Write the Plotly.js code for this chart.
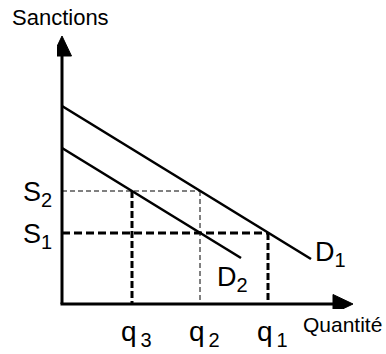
<!DOCTYPE html>
<html>
<head>
<meta charset="utf-8">
<script src="https://cdn.plot.ly/plotly-3.0.1.min.js"></script>
<style>
  html, body { margin: 0; padding: 0; background: #fff; }
  #plot { width: 386px; height: 354px; }
</style>
</head>
<body>
<div id="plot"></div>
<script>
// demand curves, from the vertical axis to their end
const d1X = [0, 24.9];
const d1Y = [19.8, 4.5];
const d2X = [0, 17.9];
const d2Y = [15.6, 4.6];

// quantities (q3, q2, q1) and sanction levels (S1, S2)
const qVals = [7.0, 13.8, 20.6];
const qNames = ['q', 'q', 'q'];
const qSubs = ['3', '2', '1'];
const sVals = [7.1, 11.3];
const sSubs = ['1', '2'];
const curveSubs = ['1', '2'];

const xRange = [-0.5, 29.3];
const yRange = [-0.5, 27.0];
const FONT = 'Liberation Sans, Arial, sans-serif';
const INK = '#000';

const [q3, q2, q1] = qVals;
const [s1, s2] = sVals;

// main letter + bigger-than-default subscript
function lab(main, sub, subSize) {
    return main + '<sub><span style="font-size:' + subSize + 'px">' + sub + '</span></sub>';
}

function seg(x, y, width, dash) {
    return {
        x: x, y: y, mode: 'lines', type: 'scatter', hoverinfo: 'skip',
        line: {color: INK, width: width, dash: dash}
    };
}

const traces = [
    // thin guides for S2 / q2
    seg([0, q2], [s2, s2], 1, '5px,3px'),
    seg([q2, q2], [s2, 0], 1, '5px,3px'),
    // thick guides
    seg([0, q1], [s1, s1], 3, '8px,4px'),
    seg([q1, q1], [s1, 0], 3, '7px,3px'),
    seg([q3, q3], [s2, 0], 3, '7px,3px'),
    // demand curves
    seg(d1X, d1Y, 2.6, 'solid'),
    seg(d2X, d2Y, 2.6, 'solid')
];

// axes with arrow heads, derived from the axis ranges
const xTip = xRange[1] - 0.2, yTip = yRange[1] - 0.2;
const headLen = 2.0, headHalf = 0.95;
const shapes = [
    {type: 'line', x0: 0, y0: 0, x1: 0, y1: yTip - headLen + 0.3,
     line: {color: INK, width: 3}},
    {type: 'line', x0: -0.15, y0: 0, x1: xTip - headLen + 0.3, y1: 0,
     line: {color: INK, width: 3}},
    {type: 'path', path: 'M ' + (-headHalf) + ' ' + (yTip - headLen) + ' L 0 ' + yTip +
        ' L ' + headHalf + ' ' + (yTip - headLen) + ' Z',
     fillcolor: INK, line: {color: INK, width: 1}},
    {type: 'path', path: 'M ' + (xTip - headLen) + ' ' + (-headHalf) + ' L ' + xTip + ' 0 L ' +
        (xTip - headLen) + ' ' + headHalf + ' Z',
     fillcolor: INK, line: {color: INK, width: 1}}
];

const annotations = [
    {x: 0, y: yRange[1], yshift: 17, xshift: -2, text: 'Sanctions', showarrow: false,
     font: {family: FONT, size: 22, color: INK}},
    {x: 28.05, y: 0, yshift: -20, text: 'Quantité', showarrow: false,
     font: {family: FONT, size: 21, color: INK}},
    {x: 25.3, y: 5.0, xshift: -2, text: lab('D', curveSubs[0], 20), showarrow: false, xanchor: 'left',
     font: {family: FONT, size: 27, color: INK}},
    {x: 15.5, y: 2.5, xshift: -2, text: lab('D', curveSubs[1], 20), showarrow: false, xanchor: 'left',
     font: {family: FONT, size: 27, color: INK}}
];
qVals.forEach(function (q, i) {
    annotations.push({x: q, y: 0, yshift: -29, xshift: 4,
        text: qNames[i] + '<sub><span style="font-size:20px">\u2009' + qSubs[i] + '</span></sub>',
        showarrow: false,
        font: {family: FONT, size: 28, color: INK}});
});
sVals.forEach(function (s, i) {
    annotations.push({x: 0, y: s, text: lab('S', sSubs[i], 20), showarrow: false,
        xanchor: 'right', xshift: -8, yshift: -3,
        font: {family: FONT, size: 27, color: INK}});
});

const layout = {
    width: 386, height: 354,
    margin: {l: 57, r: 31, t: 34, b: 45},
    paper_bgcolor: '#fff', plot_bgcolor: '#fff',
    showlegend: false,
    xaxis: {range: xRange, showgrid: false, zeroline: false, showticklabels: false, showline: false},
    yaxis: {range: yRange, showgrid: false, zeroline: false, showticklabels: false, showline: false},
    shapes: shapes,
    annotations: annotations
};

Plotly.newPlot('plot', traces, layout, {displayModeBar: false, staticPlot: true});
</script>
</body>
</html>
